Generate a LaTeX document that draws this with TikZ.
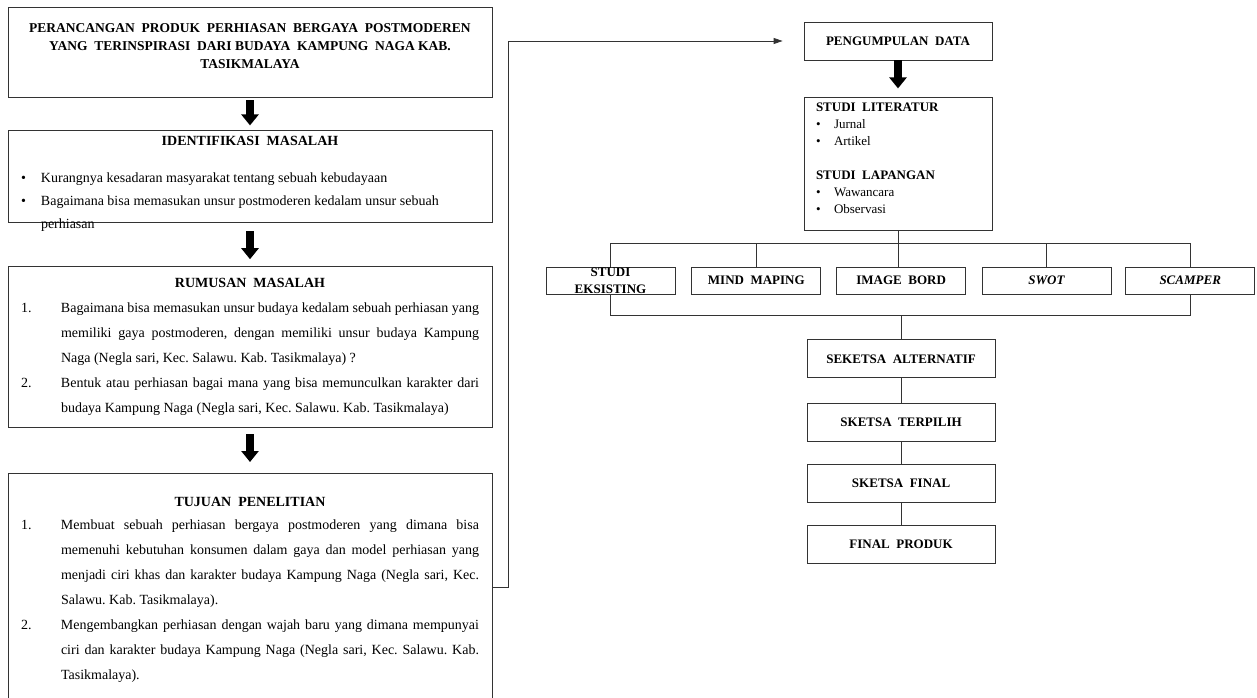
\documentclass[tikz,border=0pt]{standalone}
\usepackage{fontspec}
\setmainfont{Liberation Serif}
\usetikzlibrary{positioning, arrows.meta}
\frenchspacing

\newcommand{\isipanel}[3]{\parbox[c][#1][t]{458pt}{\vspace*{#2}#3}}
\newcommand{\butir}[2]{\par\noindent\hangindent=40pt\hangafter=1\makebox[40pt][l]{#1}#2\par}
\newcommand{\titik}[2][20pt]{\par\noindent\hangindent=#1\hangafter=1\makebox[#1][l]{\textbullet}#2\par}

\tikzset{
	panel/.style={draw=black!80, line width=0.8pt, inner xsep=13pt, inner ysep=0pt, font=\fontsize{14}{25}\selectfont},
	kotak/.style={draw=black!80, line width=0.8pt, inner sep=0pt, minimum width=129pt, minimum height=27pt, align=center, font=\fontsize{13}{17}\selectfont\bfseries},
	tahap/.style={kotak, minimum width=188pt, minimum height=38pt},
	panah/.style={line width=8pt, -{Triangle[length=11pt, width=17pt]}},
	garis/.style={draw=black!80, line width=0.8pt},
}

\begin{document}
\begin{tikzpicture}[x=1pt, y=-1pt]
	\useasboundingbox (0,0) rectangle (1257,698);
	\clip (0,0) rectangle (1257,698);

	% kolom kiri
	\node[panel]	(judul)			at (250,52)				{\isipanel{90pt}{17pt}{{\centering\bfseries\fontsize{13.5}{18}\selectfont PERANCANGAN\ \ PRODUK\ \ PERHIASAN\ \ BERGAYA\ \ POSTMODEREN\\ YANG\ \ TERINSPIRASI\ \ DARI BUDAYA\ \ KAMPUNG\ \ NAGA KAB.\\ TASIKMALAYA\par}}};
	\node[panel]	(identifikasi)	[below=33pt of judul]	{\isipanel{92pt}{5pt}{\baselineskip=23pt
		{\centering\bfseries IDENTIFIKASI\ \ MASALAH\par}\vspace{14pt}
		\raggedright
		\titik{Kurangnya kesadaran masyarakat tentang sebuah kebudayaan}
		\titik{Bagaimana bisa memasukan unsur postmoderen kedalam unsur sebuah\newline perhiasan}}};
	\node[panel]	(rumusan)		[below=43pt of identifikasi]	{\isipanel{161pt}{12pt}{
		{\centering\bfseries RUMUSAN\ \ MASALAH\par}
		\butir{1.}{Bagaimana bisa memasukan unsur budaya kedalam sebuah perhiasan yang\linebreak memiliki gaya postmoderen, dengan memiliki unsur budaya Kampung\linebreak Naga (Negla sari, Kec. Salawu. Kab. Tasikmalaya) ?}
		\butir{2.}{Bentuk atau perhiasan bagai mana yang bisa memunculkan karakter dari\linebreak budaya Kampung Naga (Negla sari, Kec. Salawu. Kab. Tasikmalaya)}}};
	\node[panel]	(tujuan)		[below=45pt of rumusan]	{\isipanel{241pt}{24pt}{
		{\centering\bfseries TUJUAN\ \ PENELITIAN\par}\vspace{-2pt}
		\butir{1.}{Membuat sebuah perhiasan bergaya postmoderen yang dimana bisa\linebreak memenuhi kebutuhan konsumen dalam gaya dan model perhiasan yang\linebreak menjadi ciri khas dan karakter budaya Kampung Naga (Negla sari, Kec.\linebreak Salawu. Kab. Tasikmalaya).}
		\butir{2.}{Mengembangkan perhiasan dengan wajah baru yang dimana mempunyai\linebreak ciri dan karakter budaya Kampung Naga (Negla sari, Kec. Salawu. Kab.\linebreak Tasikmalaya).}}};

	% kolom kanan
	\node[tahap]	(data)			at (898,41)				{PENGUMPULAN\ \ DATA};
	\node[tahap, inner xsep=12pt, font=\fontsize{13}{17}\selectfont]
					(literatur)		[below=37pt of data]	{\parbox[c][133pt][t]{164pt}{\vspace*{5pt}
		\textbf{STUDI\ \ LITERATUR}\par
		\titik[18pt]{Jurnal}
		\titik[18pt]{Artikel}
		\vspace{17pt}
		\textbf{STUDI\ \ LAPANGAN}\par
		\titik[18pt]{Wawancara}
		\titik[18pt]{Observasi}}};
	\node[kotak]	(studi)			at (610.5,280.5)		{\smash{\raisebox{-3.5pt}{\parbox[c]{129pt}{\centering STUDI\\EKSISTING}}}};
	\node[kotak]	(mind)			[right=16pt of studi]	{MIND\ \ MAPING};
	\node[kotak]	(image)			[right=15pt of mind]	{IMAGE\ \ BORD};
	\node[kotak]	(swot)			[right=15.5pt of image]	{\itshape SWOT};
	\node[kotak]	(scamper)		[right=14pt of swot]	{\itshape SCAMPER};
	\node[tahap]	(alternatif)	[below=45pt of image]	{SEKETSA\ \ ALTERNATIF};
	\node[tahap]	(terpilih)		[below=25pt of alternatif]	{SKETSA\ \ TERPILIH};
	\node[tahap]	(final)			[below=22pt of terpilih]	{SKETSA\ \ FINAL};
	\node[tahap]	(produk)		[below=22pt of final]	{FINAL\ \ PRODUK};

	% panah tebal
	\draw[panah, shorten <=3pt, shorten >=5pt]	(judul) -- (identifikasi);
	\draw[panah, shorten <=8pt, shorten >=7pt]	(identifikasi) -- (rumusan);
	\draw[panah, shorten <=6pt, shorten >=11pt]	(rumusan) -- (tujuan);
	\draw[panah, shorten >=9pt]					(data) -- (literatur);

	% garis penghubung
	\draw[garis, -{Triangle[length=9pt, width=6pt]}] ([yshift=6.5pt]tujuan.east) -- ++(16,0) |- ([xshift=-21pt]data.west);
	\draw[garis] (studi.north) -- ++(0,-23) -| (scamper.north);
	\draw[garis] (mind.north) -- ++(0,-23)
				 (swot.north) -- ++(0,-23);
	\draw[garis] (literatur.south) -- (literatur.south |- image.north);
	\draw[garis] (studi.south) -- ++(0,21) coordinate (bawah) -| (scamper.south);
	\draw[garis] (alternatif) -- (alternatif.north |- bawah);
	\draw[garis] (alternatif) -- (terpilih)
				 (terpilih) -- (final)
				 (final) -- (produk);
\end{tikzpicture}
\end{document}
